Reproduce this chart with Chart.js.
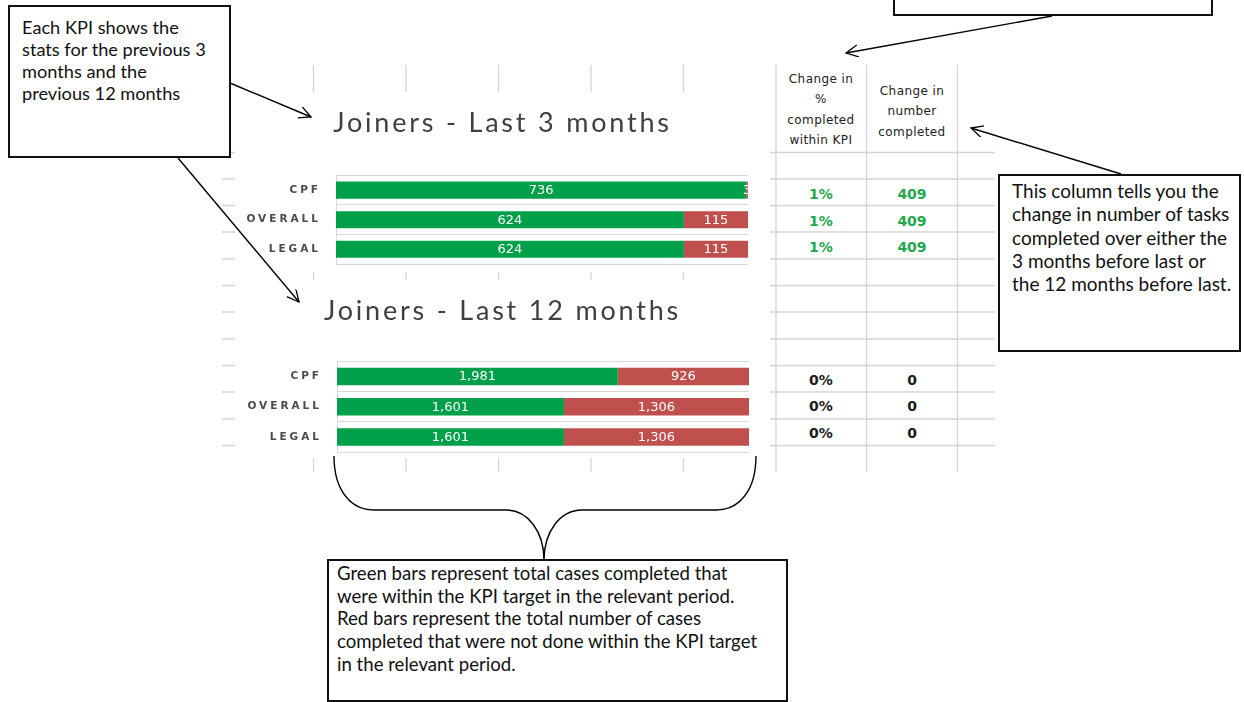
<!DOCTYPE html>
<html lang="en">
<head>
<meta charset="UTF-8">
<title>Joiners KPI</title>
<script src="https://cdn.jsdelivr.net/npm/chart.js"></script>
<style>
    body {
        margin: 0;
        width: 1244px;
        height: 702px;
        position: relative;
        overflow: hidden;
        background: #fff;
        font-family: Lato, sans-serif;
    }
    #grid, #marks { position: absolute; left: 0; top: 0; }
    #grid { z-index: 0; }
    #marks { z-index: 4; pointer-events: none; }
    .chart-box { position: absolute; left: 235px; width: 535px; background: #fff; z-index: 1; }
    .cell {
        position: absolute;
        width: 90px;
        text-align: center;
        z-index: 2;
    }
    .head { font: 12px "DejaVu Sans", sans-serif; letter-spacing: 0.4px; line-height: 20.3px; color: #222; }
    .val { font: bold 14px "DejaVu Sans", sans-serif; line-height: 26px; height: 26px; }
    .note {
        position: absolute;
        background: #fff;
        border: 2px solid #111;
        box-sizing: border-box;
        color: #111;
        white-space: nowrap;
        z-index: 3;
    }
</style>
</head>
<body>

<svg id="grid" width="1244" height="702"></svg>

<div class="chart-box" style="top:92px;height:180px;"><canvas id="chart3" width="535" height="180"></canvas></div>
<div class="chart-box" style="top:280px;height:178px;"><canvas id="chart12" width="535" height="178"></canvas></div>

<div class="cell head" style="left:776px;top:69px;">Change in<br>%<br>completed<br>within KPI</div>
<div class="cell head" style="left:867px;top:81px;">Change in<br>number<br>completed</div>
<div id="cells"></div>

<div class="note" style="left:8px;top:5px;width:223px;height:153px;padding:9px 6px 0 12px;font-size:18.2px;line-height:22px;">
    Each KPI shows the<br>stats for the previous 3<br>months and the<br>previous 12 months
</div>
<div class="note" style="left:893px;top:-10px;width:320px;height:26px;"></div>
<div class="note" style="left:998px;top:174px;width:243px;height:178px;padding:3px 4px 0 12px;font-size:19px;line-height:23.3px;">
    This column tells you the<br>change in number of tasks<br>completed over either the<br>3 months before last or<br>the 12 months before last.
</div>
<div class="note" style="left:327px;top:559px;width:461px;height:143px;padding:1px 4px 0 8px;font-size:18.6px;line-height:22.7px;">
    Green bars represent total cases completed that<br>were within the KPI target in the relevant period.<br>Red bars represent the total number of cases<br>completed that were not done within the KPI target<br>in the relevant period.
</div>

<svg id="marks" width="1244" height="702">
    <defs>
        <marker id="ah" markerWidth="14" markerHeight="14" refX="12" refY="6" orient="auto" markerUnits="userSpaceOnUse">
            <path d="M0,0 L12,6 L0,12" fill="none" stroke="#000" stroke-width="1.3"/>
        </marker>
    </defs>
    <g stroke="#000" stroke-width="1.4" fill="none">
        <line x1="230" y1="83" x2="311" y2="117" marker-end="url(#ah)"/>
        <line x1="178" y1="158" x2="299" y2="302" marker-end="url(#ah)"/>
        <line x1="1052" y1="16" x2="846" y2="53" marker-end="url(#ah)"/>
        <line x1="1121" y1="174" x2="971" y2="128" marker-end="url(#ah)"/>
        <path d="M334,456 C334,492 352,510 374,510 L506,510 C528,510 544,532 544,560 C544,532 560,510 582,510 L716,510 C738,510 756,492 756,456"/>
    </g>
</svg>

<script>
    const categories = ['CPF', 'OVERALL', 'LEGAL'];
    // cases done inside / outside the KPI target
    const within3 = [736, 624, 624];
    const outside3 = [3, 115, 115];
    const within12 = [1981, 1601, 1601];
    const outside12 = [926, 1306, 1306];
    // right hand columns
    const pctChange3 = ['1%', '1%', '1%'];
    const numChange3 = [409, 409, 409];
    const pctChange12 = ['0%', '0%', '0%'];
    const numChange12 = [0, 0, 0];

    const GREEN = '#00A04A';
    const RED = '#C0504D';

    // spreadsheet gridlines behind everything
    const grid = document.getElementById('grid');
    const colX = [313.5, 406, 498.5, 591, 683.5, 776, 866.5, 957.5];
    const rowY = [152.5, 179, 205.5, 232, 259, 285.5, 312, 339, 365.5, 392, 419, 445.5];
    let svg = '';
    colX.forEach(x => { svg += `<line x1="${x}" y1="65" x2="${x}" y2="472" stroke="#d4d4d4" stroke-width="1.3"/>`; });
    rowY.forEach(y => { svg += `<line x1="222" y1="${y}" x2="995" y2="${y}" stroke="#d4d4d4" stroke-width="1.3"/>`; });
    grid.innerHTML = svg;

    // change columns
    const cells = document.getElementById('cells');
    function addCol(values, left, tops, color) {
        values.forEach((v, i) => {
            const d = document.createElement('div');
            d.className = 'cell val';
            d.style.left = left + 'px';
            d.style.top = tops[i] + 'px';
            d.style.color = color;
            d.textContent = v;
            cells.appendChild(d);
        });
    }
    const topRows = [181, 208, 234];
    const bottomRows = [367, 393, 420];
    addCol(pctChange3, 776, topRows, '#1FA84F');
    addCol(numChange3, 867, topRows, '#1FA84F');
    addCol(pctChange12, 776, bottomRows, '#1c1c1c');
    addCol(numChange12, 867, bottomRows, '#1c1c1c');

    function share(a, b) {
        return a.map((v, i) => v / (v + b[i]) * 100);
    }

    const titleSpacing = {
        id: 'titleSpacing',
        beforeDraw(chart) { chart.ctx.letterSpacing = '2.8px'; },
        beforeDatasetsDraw(chart) { chart.ctx.letterSpacing = '0px'; }
    };

    const barLabels = {
        id: 'barLabels',
        afterDatasetsDraw(chart) {
            const { ctx, chartArea } = chart;
            ctx.save();
            ctx.beginPath();
            ctx.rect(chartArea.left, chartArea.top, chartArea.width, chartArea.height);
            ctx.clip();
            ctx.letterSpacing = '0px';
            ctx.font = '13px "DejaVu Sans"';
            ctx.fillStyle = '#fff';
            ctx.textAlign = 'center';
            ctx.textBaseline = 'middle';
            chart.data.datasets.forEach((ds, d) => {
                chart.getDatasetMeta(d).data.forEach((bar, i) => {
                    ctx.fillText(ds.counts[i].toLocaleString('en-US'), (bar.x + bar.base) / 2, bar.y + 0.5);
                });
            });
            ctx.restore();
        }
    };

    const rowLabels = {
        id: 'rowLabels',
        afterDraw(chart) {
            const { ctx, chartArea } = chart;
            const y = chart.scales.y;
            ctx.save();
            ctx.letterSpacing = '3px';
            ctx.font = 'bold 10.5px "DejaVu Sans"';
            ctx.fillStyle = '#4a4a4a';
            ctx.textAlign = 'right';
            ctx.textBaseline = 'middle';
            categories.forEach((c, i) => ctx.fillText(c, chartArea.left - 15, y.getPixelForValue(i)));
            ctx.restore();
        }
    };

    function makeChart(id, title, within, outside, leftW, rightW, bottomPad, titlePad) {
        return new Chart(document.getElementById(id), {
            type: 'bar',
            data: {
                labels: categories,
                datasets: [
                    { label: 'Within KPI', data: share(within, outside), counts: within, backgroundColor: GREEN },
                    { label: 'Outside KPI', data: share(outside, within), counts: outside, backgroundColor: RED }
                ]
            },
            options: {
                indexAxis: 'y',
                responsive: false,
                animation: false,
                layout: { padding: { left: 0, right: 0, top: 0, bottom: bottomPad } },
                datasets: { bar: { categoryPercentage: 1, barPercentage: 0.58, borderWidth: 0 } },
                plugins: {
                    legend: { display: false },
                    tooltip: { enabled: false },
                    title: {
                        display: true,
                        text: title,
                        color: '#3f3f3f',
                        font: { family: 'Lato', size: 27, weight: 'normal', lineHeight: 1.2 },
                        padding: titlePad
                    }
                },
                scales: {
                    x: { stacked: true, min: 0, max: 100, display: false },
                    y: {
                        stacked: true,
                        ticks: { display: false },
                        grid: { offset: true, color: '#d9d9d9', drawTicks: false },
                        border: { color: '#d9d9d9' },
                        afterFit(s) { s.width = leftW; }
                    },
                    yRight: {
                        type: 'category',
                        position: 'right',
                        ticks: { display: false },
                        grid: { display: false, drawTicks: false },
                        border: { display: false },
                        afterFit(s) { s.width = rightW; }
                    }
                }
            },
            plugins: [titleSpacing, barLabels, rowLabels]
        });
    }

    makeChart('chart3', 'Joiners - Last 3 months', within3, outside3, 101, 22, 8, { top: 15, bottom: 36 });
    makeChart('chart12', 'Joiners - Last 12 months', within12, outside12, 102, 21, 6, { top: 15, bottom: 34 });
</script>
</body>
</html>
